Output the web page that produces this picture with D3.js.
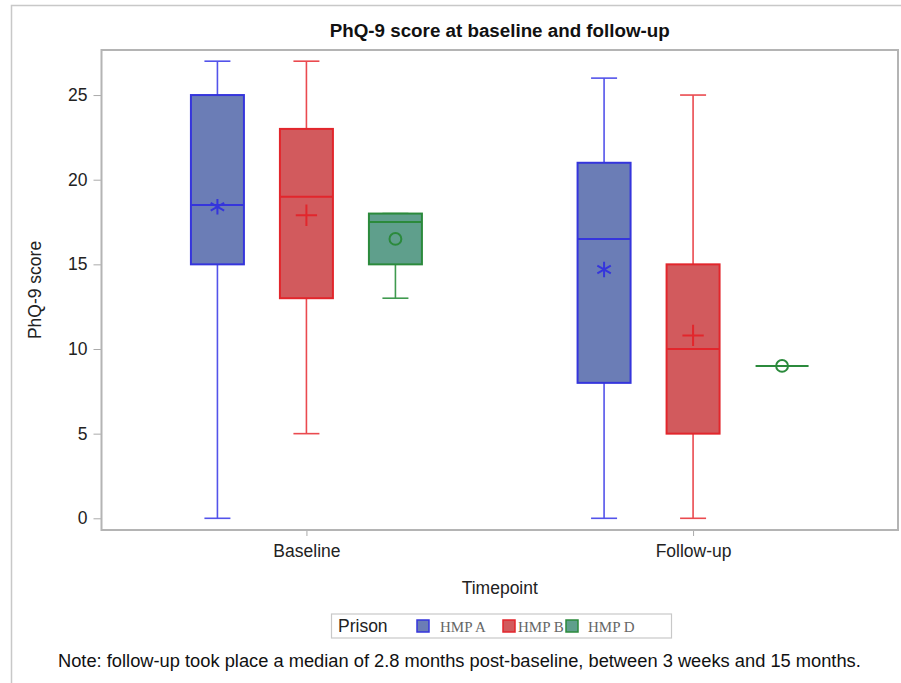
<!DOCTYPE html>
<html>
<head>
<meta charset="utf-8">
<script src="https://cdn.jsdelivr.net/npm/d3@7"></script>
<style>
  html, body { margin: 0; padding: 0; background: #fff; }
  svg { display: block; font-family: "Liberation Sans", Arial, sans-serif; }
</style>
</head>
<body>
<div id="chart"></div>
<script>
// PhQ-9 box plots by timepoint and prison
const timepoints = ["Baseline", "Follow-up"];
const prisons = ["HMP A", "HMP B", "HMP D"];
// rows: timepoint, columns: prison
const minVals    = [[0, 5, 13], [0, 0, 9]];
const q1Vals     = [[15, 13, 15], [8, 5, 9]];
const medianVals = [[18.5, 19, 17.5], [16.5, 10, 9]];
const q3Vals     = [[25, 23, 18], [21, 15, 9]];
const maxVals    = [[27, 27, 18], [26, 25, 9]];
const meanVals   = [[18.4, 17.9, 16.5], [14.7, 10.8, 9]];
const yTicks = [0, 5, 10, 15, 20, 25];

const W = 901, H = 683;
const frame = { left: 101.5, right: 898, top: 50, bottom: 530 };

const fills   = { "HMP A": "#6b7db6", "HMP B": "#d25a5d", "HMP D": "#5f9f8c" };
const strokes = { "HMP A": "#3535dc", "HMP B": "#e2262c", "HMP D": "#2b8a3c" };
const whisk   = { "HMP A": "#5353ea", "HMP B": "#ea4a4f", "HMP D": "#3f9a4f" };
const symbols = {
  "HMP A": d3.symbolAsterisk || d3.symbolCross,
  "HMP B": d3.symbolPlus || d3.symbolCross,
  "HMP D": d3.symbolCircle
};
const symSize = { "HMP A": 170, "HMP B": 150, "HMP D": 110 };

const svg = d3.select("#chart").append("svg").attr("width", W).attr("height", H);

// outer image border (top and left only, picture is cropped)
svg.append("path").attr("d", `M11.5,${H}V5.5H${W}`)
  .attr("fill", "none").attr("stroke", "#c8c8c8").attr("stroke-width", 1.5);

const x = d3.scalePoint().domain(timepoints).range([frame.left, frame.right]).padding(0.53);
const off = d3.scalePoint().domain(prisons).range([-89, 89]);
const y = d3.scaleLinear()
  .domain([-(frame.bottom - 518.3) / 16.93, (518.3 - frame.top) / 16.93])
  .range([frame.bottom, frame.top]);
const boxW = 53, capW = 26;

// title
svg.append("text").attr("x", (frame.left + frame.right) / 2).attr("y", 37)
  .attr("text-anchor", "middle").attr("font-weight", "bold").attr("font-size", 18)
  .attr("textLength", 340).attr("lengthAdjust", "spacingAndGlyphs")
  .attr("fill", "#111").text("PhQ-9 score at baseline and follow-up");

// axes
const yAxis = svg.append("g").attr("transform", `translate(${frame.left},0)`)
  .call(d3.axisLeft(y).tickValues(yTicks).tickSize(8).tickPadding(6));
const xAxis = svg.append("g").attr("transform", `translate(0,${frame.bottom})`)
  .call(d3.axisBottom(x).tickSize(6).tickPadding(9));
[yAxis, xAxis].forEach(g => {
  g.select(".domain").remove();
  g.selectAll(".tick line").attr("stroke", "#aaa");
  g.selectAll(".tick text").attr("fill", "#222").attr("font-size", 17.5)
    .attr("font-family", "Liberation Sans, Arial, sans-serif");
});

// plot frame
svg.append("rect").attr("x", frame.left).attr("y", frame.top)
  .attr("width", frame.right - frame.left).attr("height", frame.bottom - frame.top)
  .attr("fill", "none").attr("stroke", "#b4b4b4").attr("stroke-width", 2);

// axis titles
svg.append("text").attr("x", (frame.left + frame.right) / 2).attr("y", 594)
  .attr("text-anchor", "middle").attr("font-size", 17.5).attr("fill", "#222").text("Timepoint");
svg.append("text").attr("transform", `translate(41,${(frame.top + frame.bottom) / 2}) rotate(-90)`)
  .attr("text-anchor", "middle").attr("font-size", 17.5).attr("fill", "#222").text("PhQ-9 score");

// boxes
const stats = [];
timepoints.forEach((t, i) => prisons.forEach((p, j) => stats.push({
  t, p, min: minVals[i][j], q1: q1Vals[i][j], med: medianVals[i][j],
  q3: q3Vals[i][j], max: maxVals[i][j], mean: meanVals[i][j]
})));

const g = svg.append("g").selectAll("g").data(stats).join("g")
  .attr("transform", d => `translate(${x(d.t) + off(d.p)},0)`);

g.append("line").attr("y1", d => y(d.q3)).attr("y2", d => y(d.max))
  .attr("stroke", d => whisk[d.p]).attr("stroke-width", 1.6);
g.append("line").attr("y1", d => y(d.q1)).attr("y2", d => y(d.min))
  .attr("stroke", d => whisk[d.p]).attr("stroke-width", 1.6);
g.selectAll(".cap").data(d => [[d, d.max], [d, d.min]]).join("line").attr("class", "cap")
  .attr("x1", -capW / 2).attr("x2", capW / 2)
  .attr("y1", c => y(c[1])).attr("y2", c => y(c[1]))
  .attr("stroke", c => whisk[c[0].p]).attr("stroke-width", 1.6);
g.append("rect").attr("x", -boxW / 2).attr("width", boxW)
  .attr("y", d => y(d.q3)).attr("height", d => y(d.q1) - y(d.q3))
  .attr("fill", d => fills[d.p]).attr("stroke", d => strokes[d.p]).attr("stroke-width", 2);
g.append("line").attr("x1", -boxW / 2).attr("x2", boxW / 2)
  .attr("y1", d => y(d.med)).attr("y2", d => y(d.med))
  .attr("stroke", d => strokes[d.p]).attr("stroke-width", 2);
g.append("path")
  .attr("d", d => d3.symbol().type(symbols[d.p]).size(symSize[d.p])())
  .attr("transform", d => `translate(0,${y(d.mean)})`)
  .attr("fill", "none").attr("stroke", d => strokes[d.p]).attr("stroke-width", 2);

// legend
const lg = svg.append("g");
lg.append("rect").attr("x", 331.5).attr("y", 614).attr("width", 340).attr("height", 24)
  .attr("fill", "#fff").attr("stroke", "#c8c8c8").attr("stroke-width", 1.2);
lg.append("text").attr("x", 338).attr("y", 632).attr("font-size", 17.5).attr("fill", "#222").text("Prison");
const legX = d3.scaleOrdinal().domain(prisons).range([417, 503, 566]);
const item = lg.selectAll(".item").data(prisons).join("g").attr("class", "item")
  .attr("transform", p => `translate(${legX(p)},620)`);
item.append("rect").attr("width", 12).attr("height", 12)
  .attr("fill", p => fills[p]).attr("stroke", p => strokes[p]).attr("stroke-width", 1.5);
item.append("text").attr("x", p => p === "HMP A" ? 23 : p === "HMP B" ? 15 : 22).attr("y", 11.5)
  .attr("font-family", "Liberation Serif, Times New Roman, serif").attr("font-size", 15)
  .attr("fill", "#666").text(p => p);

// note
svg.append("text").attr("x", 58).attr("y", 667).attr("font-size", 18.3).attr("fill", "#111")
  .text("Note: follow-up took place a median of 2.8 months post-baseline, between 3 weeks and 15 months.");
</script>
</body>
</html>
